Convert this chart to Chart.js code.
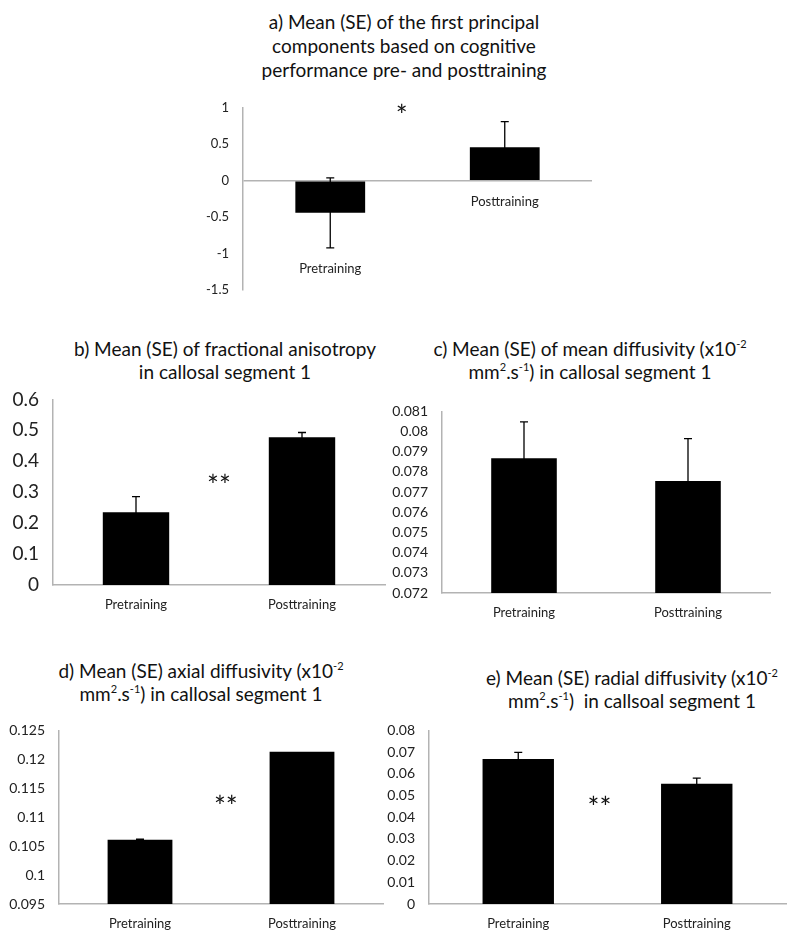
<!DOCTYPE html>
<html>
<head>
<meta charset="utf-8">
<script src="https://cdn.jsdelivr.net/npm/chart.js@4.4.0/dist/chart.umd.min.js"></script>
<style>
    body { margin: 0; background: #fff; width: 800px; height: 941px; position: relative; overflow: hidden; font-family: Lato, sans-serif; }
    .title { position: absolute; text-align: center; font-size: 19px; line-height: 23px; color: #111; white-space: nowrap; transform: translateX(-50%); }
    .title sup { font-size: 11px; line-height: 0; vertical-align: 8px; }
    canvas { position: absolute; }
</style>
</head>
<body>
<div class="title" style="left:404px;top:10px;line-height:24px">a) Mean (SE) of the first principal<br>components based on cognitive<br>performance pre- and posttraining</div>
<div class="title" style="left:225px;top:337px">b) Mean (SE) of fractional anisotropy<br>in callosal segment 1</div>
<div class="title" style="left:590px;top:337px">c) Mean (SE) of mean diffusivity (x10<sup>-2</sup><br>mm<sup>2</sup>.s<sup>-1</sup>) in callosal segment 1</div>
<div class="title" style="left:201px;top:659px">d) Mean (SE) axial diffusivity (x10<sup>-2</sup><br>mm<sup>2</sup>.s<sup>-1</sup>) in callosal segment 1</div>
<div class="title" style="left:632px;top:666px">e) Mean (SE) radial diffusivity (x10<sup>-2</sup><br>mm<sup>2</sup>.s<sup>-1</sup>)&nbsp; in callsoal segment 1</div>

<canvas id="chartA"></canvas>
<canvas id="chartB"></canvas>
<canvas id="chartC"></canvas>
<canvas id="chartD"></canvas>
<canvas id="chartE"></canvas>

<script>
// Categories shared by every panel
const categories = ['Pretraining', 'Posttraining'];

// a) first principal component of cognitive performance
const pcMeans = [-0.44, 0.46];
const pcSE = [0.48, 0.35];
const pcTicks = [-1.5, -1, -0.5, 0, 0.5, 1];

// b) fractional anisotropy
const faMeans = [0.235, 0.478];
const faSE = [0.051, 0.015];
const faTicks = [0, 0.1, 0.2, 0.3, 0.4, 0.5, 0.6];

// c) mean diffusivity
const mdMeans = [0.07868, 0.07755];
const mdSE = [0.0018, 0.0021];
const mdTicks = [0.072, 0.073, 0.074, 0.075, 0.076, 0.077, 0.078, 0.079, 0.08, 0.081];

// d) axial diffusivity
const adMeans = [0.1061, 0.1213];
const adSE = [0.0001, 0];
const adTicks = [0.095, 0.1, 0.105, 0.11, 0.115, 0.12, 0.125];

// e) radial diffusivity
const rdMeans = [0.0668, 0.0554];
const rdSE = [0.0031, 0.0026];
const rdTicks = [0, 0.01, 0.02, 0.03, 0.04, 0.05, 0.06, 0.07, 0.08];

// significance markers: text, position (category units, value)
const pcSig = ['*', 0.41, 0.95];
const faSig = ['**', 0.5, 0.335];
const adSig = ['**', 0.53, 0.1126];
const rdSig = ['**', 0.455, 0.0466];

const AXIS_GRAY = '#b3b3b3';

// Error bars drawn through the y scale
const errorBars = {
    id: 'errorBars',
    afterDatasetsDraw(chart, args, opts) {
        const ctx = chart.ctx, y = chart.scales.y;
        const values = chart.data.datasets[0].data;
        ctx.save();
        ctx.strokeStyle = '#000';
        ctx.lineWidth = 1.3;
        chart.getDatasetMeta(0).data.forEach((bar, i) => {
            const e = opts.values[i];
            if (!e) return;
            const yTop = y.getPixelForValue(values[i] + e);
            const yBot = y.getPixelForValue(values[i] - e);
            ctx.beginPath();
            ctx.moveTo(bar.x, yTop); ctx.lineTo(bar.x, yBot);
            ctx.moveTo(bar.x - 4, yTop); ctx.lineTo(bar.x + 4, yTop);
            ctx.moveTo(bar.x - 4, yBot); ctx.lineTo(bar.x + 4, yBot);
            ctx.stroke();
        });
        ctx.restore();
    }
};

// Significance asterisks
const sigMark = {
    id: 'sigMark',
    afterDraw(chart, args, opts) {
        if (!opts.mark) return;
        const [text, xv, yv] = opts.mark;
        const ctx = chart.ctx;
        ctx.save();
        ctx.font = '28px Lato, sans-serif';
        ctx.fillStyle = '#111';
        ctx.textAlign = 'center';
        ctx.textBaseline = 'alphabetic';
        ctx.fillText(text, chart.scales.x.getPixelForValue(xv), chart.scales.y.getPixelForValue(yv) + 15);
        ctx.restore();
    }
};

// Category labels placed under the zero line / under negative bars (panel a)
const lowLabels = {
    id: 'lowLabels',
    afterDraw(chart, args, opts) {
        if (!opts.show) return;
        const ctx = chart.ctx, y = chart.scales.y;
        const values = chart.data.datasets[0].data;
        const errs = chart.options.plugins.errorBars.values;
        ctx.save();
        ctx.font = '13px Lato, sans-serif';
        ctx.fillStyle = '#222';
        ctx.textAlign = 'center';
        ctx.textBaseline = 'middle';
        chart.getDatasetMeta(0).data.forEach((bar, i) => {
            const low = Math.min(0, values[i] - (values[i] < 0 ? errs[i] : 0));
            ctx.fillText(chart.data.labels[i], bar.x, y.getPixelForValue(low) + 21);
        });
        ctx.restore();
    }
};

function panel(id, rect, means, errs, ticks, tickSize, sig, zeroLine) {
    const axisW = Math.min(60, rect.left);
    const padTop = 14, padRight = 10;
    const axisH = zeroLine ? 0 : 36;
    const padBottom = zeroLine ? 14 : 0;
    const canvas = document.getElementById(id);
    canvas.width = rect.right - rect.left + axisW + padRight;
    canvas.height = rect.bottom - rect.top + padTop + axisH + padBottom;
    canvas.style.left = (rect.left - axisW) + 'px';
    canvas.style.top = (rect.top - padTop) + 'px';

    return new Chart(canvas, {
        type: 'bar',
        data: {
            labels: categories,
            datasets: [{
                data: means,
                backgroundColor: '#000',
                borderWidth: 0,
                barPercentage: 0.4,
                categoryPercentage: 1.0
            }]
        },
        plugins: [errorBars, sigMark, lowLabels],
        options: {
            responsive: false,
            animation: false,
            layout: { padding: { top: padTop, right: padRight, left: 0, bottom: padBottom } },
            plugins: {
                legend: { display: false },
                tooltip: { enabled: false },
                errorBars: { values: errs },
                sigMark: { mark: sig },
                lowLabels: { show: zeroLine }
            },
            scales: {
                x: {
                    display: !zeroLine,
                    grid: { display: false, drawTicks: false, tickLength: 0 },
                    border: { display: true, color: AXIS_GRAY, width: 1.5 },
                    ticks: { padding: 12, color: '#222', font: { family: 'Lato', size: 13 } },
                    afterFit(scale) { scale.height = axisH; }
                },
                y: {
                    min: ticks[0],
                    max: ticks[ticks.length - 1],
                    afterBuildTicks(scale) { scale.ticks = ticks.map(v => ({ value: v })); },
                    grid: {
                        display: zeroLine,
                        drawTicks: false,
                        tickLength: 0,
                        lineWidth: 1.5,
                        color: ctx => (ctx.tick && ctx.tick.value === 0) ? AXIS_GRAY : 'rgba(0,0,0,0)'
                    },
                    border: { display: true, color: AXIS_GRAY, width: 1.5 },
                    ticks: {
                        padding: 14,
                        color: '#222',
                        font: { family: 'Lato', size: tickSize },
                        callback: v => String(parseFloat(v.toFixed(4)))
                    },
                    afterFit(scale) { scale.width = axisW; }
                }
            }
        }
    });
}

panel('chartA', { left: 243, right: 592, top: 100, bottom: 298 }, pcMeans, pcSE, pcTicks, 13, pcSig, true);
panel('chartB', { left: 53, right: 385, top: 388, bottom: 585 }, faMeans, faSE, faTicks, 19, faSig, false);
panel('chartC', { left: 442, right: 770, top: 403, bottom: 593 }, mdMeans, mdSE, mdTicks, 14, null, false);
panel('chartD', { left: 59, right: 383, top: 722, bottom: 904 }, adMeans, adSE, adTicks, 14, adSig, false);
panel('chartE', { left: 429, right: 786, top: 722, bottom: 904 }, rdMeans, rdSE, rdTicks, 14, rdSig, false);
</script>
</body>
</html>
